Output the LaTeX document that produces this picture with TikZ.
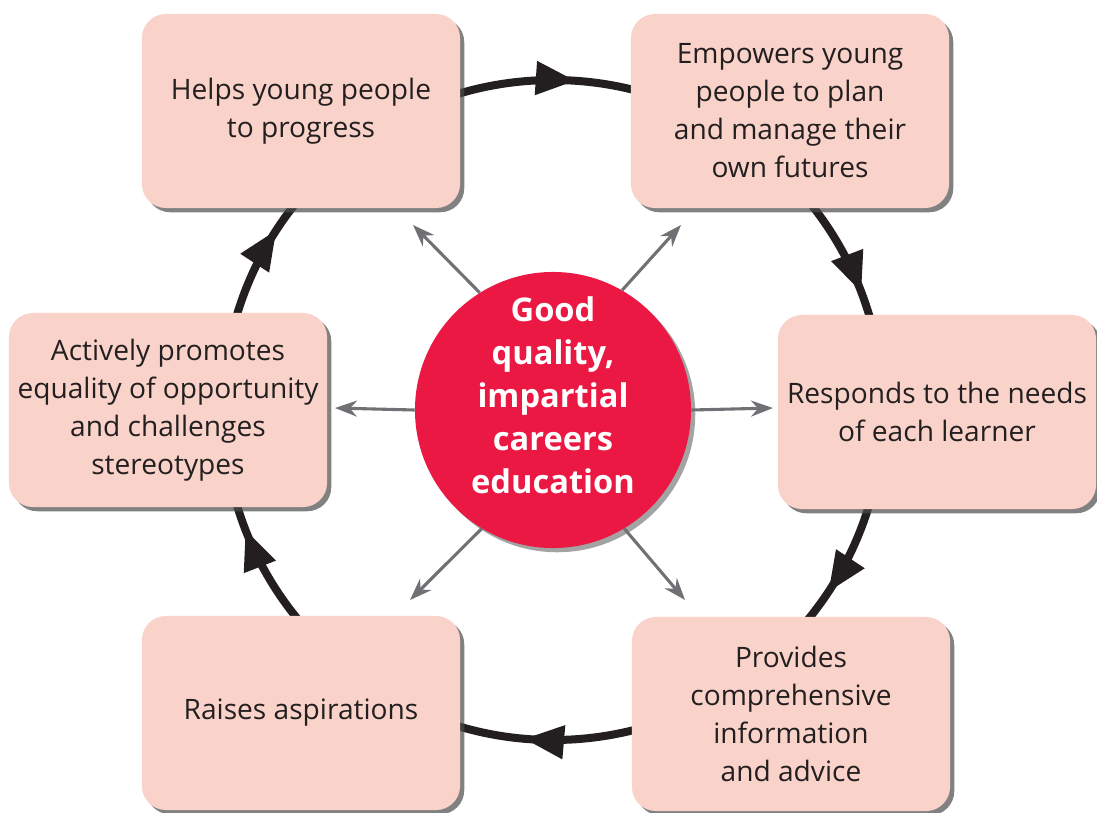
\documentclass[tikz,border=0pt]{standalone}
\usepackage{fontspec}
\setmainfont{Open Sans}
\usetikzlibrary{arrows.meta,shadows,decorations.markings}

\definecolor{boxpink}{RGB}{249,211,201}
\definecolor{hubred}{RGB}{234,24,66}
\definecolor{inkdark}{RGB}{35,31,32}
\definecolor{spokegray}{RGB}{112,113,116}

\tikzset{
  aim/.style={rounded corners=0.6cm, fill=boxpink, minimum width=7.95cm,
    minimum height=4.85cm, align=center, text=inkdark,
    font=\fontsize{20}{27}\selectfont,
    drop shadow={shadow xshift=3pt, shadow yshift=-3pt, fill=black!70, opacity=0.7}},
  hub/.style={circle, fill=hubred, minimum size=6.9cm,
    drop shadow={shadow xshift=3pt, shadow yshift=-3pt, fill=black!60, opacity=0.6}},
  hubtext/.style={align=center, text=white, font=\bfseries\fontsize{23.2}{30.6}\selectfont},
  spoke/.style={spokegray, line width=2.2pt, -{Stealth[length=0.55cm,width=0.4cm]}},
  ring/.style={line width=0.2cm, inkdark, postaction={decorate}, decoration={markings,
    mark=at position 0.093 with {\arrow{Triangle[length=1cm,width=0.8cm]}},
    mark=at position 0.264 with {\arrow{Triangle[length=1cm,width=0.8cm]}},
    mark=at position 0.441 with {\arrow{Triangle[length=1cm,width=0.8cm]}},
    mark=at position 0.592 with {\arrow{Triangle[length=1cm,width=0.8cm]}},
    mark=at position 0.761 with {\arrow{Triangle[length=1cm,width=0.8cm]}},
    mark=at position 0.942 with {\arrow{Triangle[length=1cm,width=0.8cm]}}}}
}

\begin{document}
\begin{tikzpicture}[x=0.025cm, y=-0.025cm]
  \useasboundingbox (0,0) rectangle (1097,812);
  \coordinate (mid) at (553,410);
  % Cycle
  \draw[ring] (mid) circle[radius=330];
  % Aims
  \node[aim] (progress) at (301,111) {Helps young people\\to progress};
  \node[aim] (empower) at (790,111) {Empowers young\\people to plan\\and manage their\\own futures};
  \node[aim] (needs) at (937,412) {Responds to the needs\\of each learner};
  \node[aim] (advice) at (791,714) {Provides\\comprehensive\\information\\and advice};
  \node[aim] (raise) at (301,713) {Raises aspirations};
  \node[aim] (equal) at (168,410) {Actively promotes\\equality of opportunity\\and challenges\\stereotypes};
  % Centre
  \node[hub] (core) at (mid) {};
  \node[hubtext] (coretext) at (553,395) {Good\\quality,\\impartial\\careers\\education};
  % Spokes
  \coordinate (tipnw) at (413,225);
  \coordinate (tipne) at (681,225);
  \coordinate (tipw) at (335,408);
  \coordinate (tipe) at (773,408);
  \coordinate (tipsw) at (410,600);
  \coordinate (tipse) at (685,600);
  \draw[spoke] (core.122) -- (tipnw);
  \draw[spoke] (core.60) -- (tipne);
  \draw[spoke] (core.west) -- (tipw);
  \draw[spoke] (core.east) -- (tipe);
  \draw[spoke] (core.-121) -- (tipsw);
  \draw[spoke] (core.-59) -- (tipse);
\end{tikzpicture}
\end{document}
